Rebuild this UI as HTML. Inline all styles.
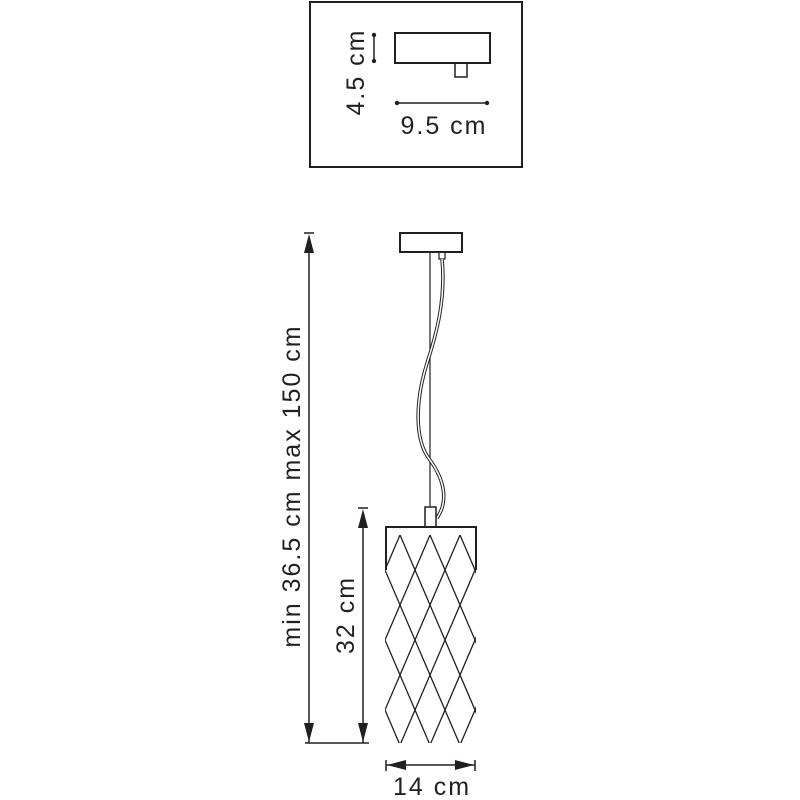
<!DOCTYPE html>
<html><head><style>html,body{margin:0;background:#fff;overflow:hidden;width:800px;height:800px}svg{display:block}text{font-family:"Liberation Sans",sans-serif;fill:#231f20;letter-spacing:2px}</style></head>
<body>
<svg width="800" height="800" viewBox="0 0 800 800" xmlns="http://www.w3.org/2000/svg">
<defs>
<clipPath id="sh"><rect x="385" y="535" width="91" height="208"/></clipPath>
</defs>
<g stroke="#231f20" fill="none">
<rect x="310" y="2" width="212" height="165" stroke-width="2"/>
<rect x="395" y="33" width="95" height="30" stroke-width="2"/>
<rect x="455" y="63" width="12" height="14" stroke-width="1.5"/>
<line x1="374" y1="35" x2="374" y2="61" stroke-width="1.5"/>
<line x1="397" y1="103" x2="487" y2="103" stroke-width="1.5"/>
</g>
<g fill="#231f20">
<circle cx="374" cy="35" r="2.2"/><circle cx="374" cy="61" r="2.2"/>
<circle cx="397" cy="103" r="2.2"/><circle cx="487" cy="103" r="2.2"/>
</g>
<text x="444" y="134" font-size="25" text-anchor="middle">9.5 cm</text>
<text transform="translate(364,72) rotate(-90)" font-size="25" text-anchor="middle">4.5 cm</text>

<g stroke="#231f20" fill="none">
<rect x="400" y="233" width="62" height="19" stroke-width="2"/>
<rect x="439" y="252" width="6" height="7" stroke-width="1.2"/>
<line x1="430" y1="252" x2="430" y2="507" stroke-width="1.2"/>
<path d="M442 259 C446 300 436 335 428 360 C415 400 414 440 430 460 C448 485 446 505 437 518" stroke-width="3.5"/>
<path d="M442 259 C446 300 436 335 428 360 C415 400 414 440 430 460 C448 485 446 505 437 518" stroke="#fff" stroke-width="1.5"/>
<rect x="425" y="507" width="11" height="20" stroke-width="1.5" fill="#fff"/>
<path d="M386 570 V527 H476 V570" stroke-width="2"/>
<g clip-path="url(#sh)" stroke-width="1.3">
<path d="M400 535 l-150 350 M430 535 l-150 350 M460 535 l-150 350 M490 535 l-150 350 M520 535 l-150 350 M550 535 l-150 350 M580 535 l-150 350 M610 535 l-150 350 M640 535 l-150 350 M670 535 l-150 350"/>
<path d="M460 535 l150 350 M430 535 l150 350 M400 535 l150 350 M370 535 l150 350 M340 535 l150 350 M310 535 l150 350 M280 535 l150 350 M250 535 l150 350 M220 535 l150 350 M190 535 l150 350"/>
</g>
<line x1="309" y1="240" x2="309" y2="743" stroke-width="1.5"/>
<line x1="304" y1="233" x2="314" y2="233" stroke-width="1.5"/>
<line x1="363" y1="515" x2="363" y2="743" stroke-width="1.5"/>
<line x1="358" y1="508" x2="368" y2="508" stroke-width="1.5"/>
<line x1="305" y1="743" x2="369" y2="743" stroke-width="1.5"/>
<line x1="386" y1="765" x2="475" y2="765" stroke-width="1.5"/>
<line x1="386" y1="760" x2="386" y2="771" stroke-width="1.5"/>
<line x1="475" y1="760" x2="475" y2="771" stroke-width="1.5"/>
</g>
<g fill="#231f20">
<path d="M309 234 l-5 19 h10z"/><path d="M309 742 l-5 -19 h10z"/>
<path d="M363 509 l-5 19 h10z"/><path d="M363 742 l-5 -19 h10z"/>
<path d="M387 765 l19 -5 v10z"/><path d="M474 765 l-19 -5 v10z"/>
</g>
<text x="432" y="795" font-size="25" text-anchor="middle">14 cm</text>
<text transform="translate(300,486) rotate(-90)" font-size="25" text-anchor="middle">min 36.5 cm max 150 cm</text>
<text transform="translate(354,615) rotate(-90)" font-size="25" text-anchor="middle">32 cm</text>
</svg>
</body></html>
